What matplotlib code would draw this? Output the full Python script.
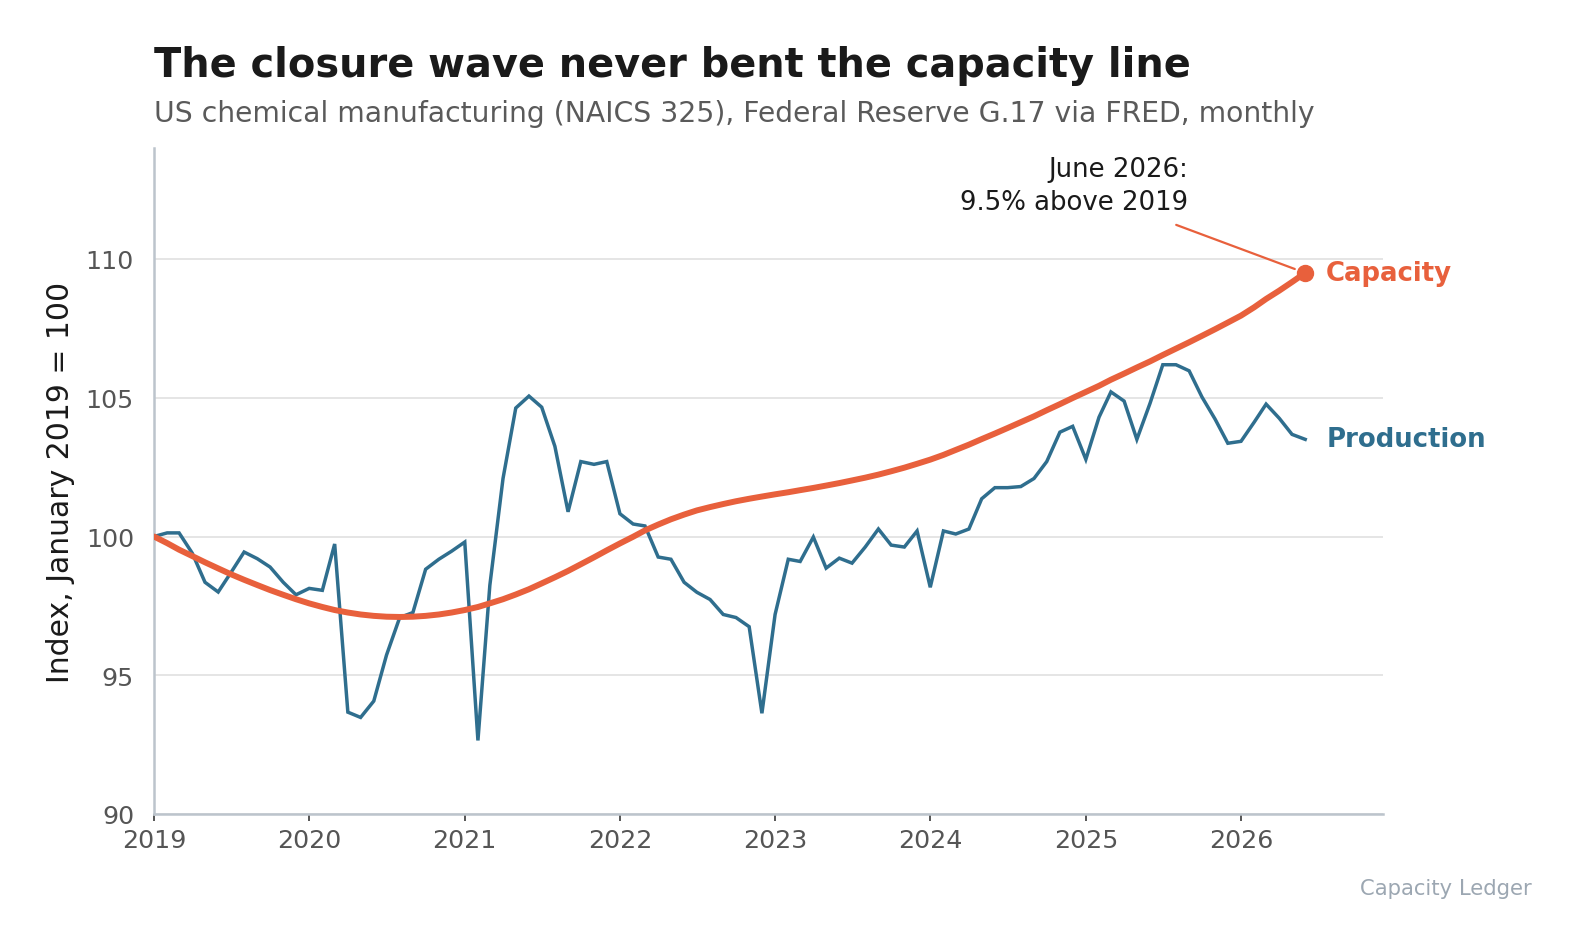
import matplotlib
matplotlib.use("Agg")
import matplotlib.pyplot as plt
import pandas as pd

# ---- data ----
months = pd.date_range("2019-01-01", "2026-06-01", freq="MS")

production = [
    # 2019
    100.0, 100.13, 100.13, 99.4, 98.35, 98.0, 98.7, 99.44, 99.2, 98.9, 98.35, 97.9,
    # 2020
    98.13, 98.06, 99.73, 93.67, 93.48, 94.07, 95.73, 97.08, 97.26, 98.82, 99.18, 99.47,
    # 2021
    99.8, 92.65, 98.24, 102.09, 104.63, 105.06, 104.66, 103.25, 100.89, 102.7, 102.6, 102.7,
    # 2022
    100.82, 100.45, 100.38, 99.26, 99.18, 98.35, 97.99, 97.73, 97.19, 97.08, 96.75, 93.63,
    # 2023
    97.19, 99.18, 99.1, 99.98, 98.86, 99.22, 99.04, 99.62, 100.27, 99.69, 99.62, 100.2,
    # 2024
    98.17, 100.2, 100.09, 100.27, 101.36, 101.76, 101.76, 101.8, 102.09, 102.7, 103.76, 103.97,
    # 2025
    102.78, 104.3, 105.21, 104.88, 103.5, 104.8, 106.19, 106.19, 105.97, 105.03, 104.23, 103.36,
    # 2026
    103.43, 104.12, 104.77, 104.26, 103.68, 103.5,
]

capacity = [
    # 2019
    100.0, 99.76, 99.525, 99.295, 99.07, 98.85, 98.64, 98.44, 98.25, 98.07, 97.9, 97.74,
    # 2020
    97.59, 97.46, 97.35, 97.26, 97.19, 97.14, 97.11, 97.1, 97.11, 97.14, 97.19, 97.26,
    # 2021
    97.35, 97.46, 97.59, 97.74, 97.91, 98.1, 98.31, 98.53, 98.76, 99.0, 99.25, 99.5,
    # 2022
    99.75, 99.99, 100.22, 100.43, 100.62, 100.79, 100.94, 101.06, 101.17, 101.27, 101.36, 101.44,
    # 2023
    101.52, 101.595, 101.67, 101.75, 101.835, 101.925, 102.02, 102.12, 102.23, 102.35, 102.48, 102.62,
    # 2024
    102.77, 102.94, 103.12, 103.31, 103.51, 103.71, 103.91, 104.12, 104.33, 104.55, 104.77, 104.99,
    # 2025
    105.21, 105.43, 105.65, 105.87, 106.09, 106.31, 106.54, 106.77, 107.0, 107.23, 107.47, 107.71,
    # 2026
    107.96, 108.26, 108.56, 108.86, 109.17, 109.5,
]

year_ticks = list(range(2019, 2027))
y_ticks = [90, 95, 100, 105, 110]

title = "The closure wave never bent the capacity line"
subtitle = "US chemical manufacturing (NAICS 325), Federal Reserve G.17 via FRED, monthly"
annotation = "June 2026:\n9.5% above 2019"
source = "Capacity Ledger"

# ---- style ----
BLUE = "#2f6e8e"
ORANGE = "#e8603c"
GRID = "#e3e3e3"
SPINE = "#bcc4cc"
TICKTXT = "#555555"

plt.rcParams["font.family"] = ["DejaVu Sans"]

W, H = 1576, 945
fig = plt.figure(figsize=(W / 100, H / 100), dpi=100)
ax = fig.add_axes([154 / W, 1 - 815 / H, (1383 - 154) / W, (815 - 149) / H])

ax.plot(months, production, color=BLUE, lw=2.5, solid_joinstyle="miter", zorder=3)
ax.plot(months, capacity, color=ORANGE, lw=4.3, solid_capstyle="round", zorder=4)
ax.plot([months[-1]], [capacity[-1]], "o", color=ORANGE, ms=11.5, zorder=5)

ax.set_xlim(pd.Timestamp("2019-01-01"), pd.Timestamp("2026-12-01"))
ax.set_ylim(90, 114)

ax.set_xticks([pd.Timestamp(f"{y}-01-01") for y in year_ticks])
ax.set_xticklabels([str(y) for y in year_ticks])
ax.set_yticks(y_ticks)
ax.set_yticklabels([str(v) for v in y_ticks])

ax.grid(axis="y", color=GRID, lw=1.3, zorder=0)
ax.set_axisbelow(True)
for s in ["top", "right"]:
    ax.spines[s].set_visible(False)
for s in ["left", "bottom"]:
    ax.spines[s].set_color(SPINE)
    ax.spines[s].set_linewidth(1.8)

ax.tick_params(axis="x", length=5, width=1.4, color="#555555", labelsize=18.3,
               labelcolor=TICKTXT, pad=5)
ax.tick_params(axis="y", length=0, labelsize=18.3, labelcolor=TICKTXT, pad=14.4)

ax.set_ylabel("Index, January 2019 = 100", fontsize=21.5, color="#1a1a1a", labelpad=8)

# end labels
ax.annotate("Capacity", xy=(months[-1], capacity[-1]), xytext=(21, 0),
            textcoords="offset pixels", ha="left", va="center",
            fontsize=18.7, fontweight="bold", color=ORANGE)
ax.annotate("Production", xy=(months[-1], production[-1]), xytext=(21, 0),
            textcoords="offset pixels", ha="left", va="center",
            fontsize=18.7, fontweight="bold", color=BLUE)

# callout text and connector
ax.annotate(annotation, xy=(months[-1], capacity[-1]), xytext=(-117, 64),
            textcoords="offset pixels", ha="right", va="baseline",
            fontsize=18.7, color="#1a1a1a", linespacing=1.33)
ax.annotate("", xy=(months[-1], capacity[-1]), xytext=(-129, 48),
            textcoords="offset pixels",
            arrowprops=dict(arrowstyle="-", color=ORANGE, lw=1.6,
                            shrinkA=0, shrinkB=8))

fig.text(154 / W, 1 - 76.5 / H, title, fontsize=28.7, fontweight="bold",
         color="#1a1a1a", ha="left", va="baseline")
fig.text(154 / W, 1 - 122 / H, subtitle, fontsize=20.35, color="#5a5a5a",
         ha="left", va="baseline")
fig.text(1532 / W, 1 - 895 / H, source, fontsize=15.2, color="#9ca7b2",
         ha="right", va="baseline")

fig.savefig("out.png", dpi=100, facecolor="white")
